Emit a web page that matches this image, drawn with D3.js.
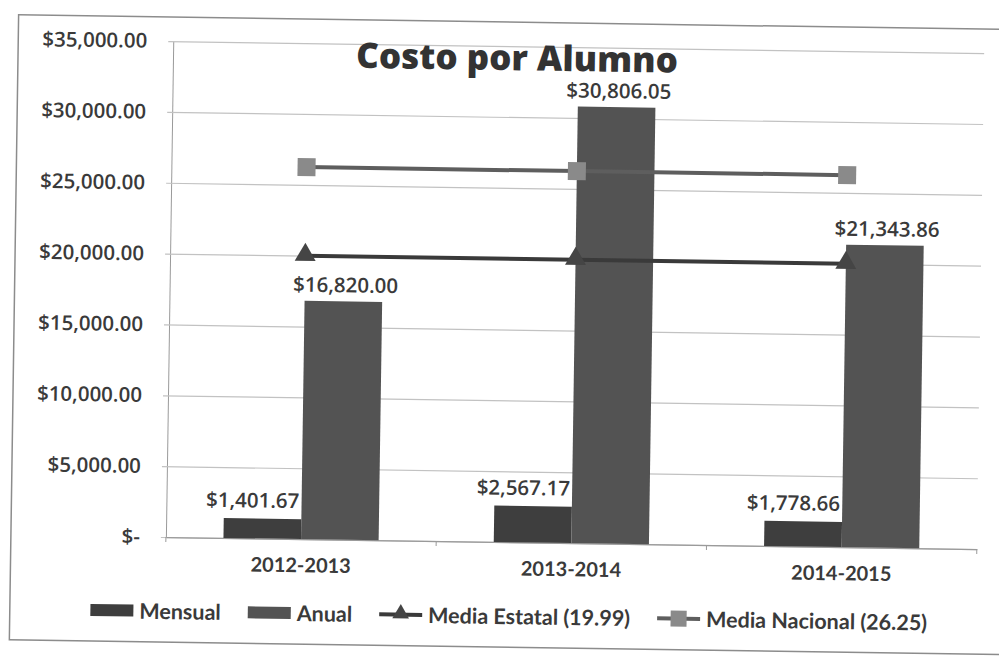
<!DOCTYPE html>
<html>
<head>
<meta charset="utf-8">
<script src="https://cdn.jsdelivr.net/npm/d3@7"></script>
<style>
  html, body { margin: 0; padding: 0; background: #ffffff; }
  svg { display: block; }
</style>
</head>
<body>
<svg id="chart" width="999" height="656"></svg>
<script>
// Costo por Alumno: monthly and yearly cost per student, with state and national averages
const categories = ['2012-2013', '2013-2014', '2014-2015'];
const mensual = [1401.67, 2567.17, 1778.66];
const anual = [16820.00, 30806.05, 21343.86];
const mediaEstatal = [19990, 19990, 19990];
const mediaNacional = [26250, 26250, 26250];
const yTicks = [0, 5000, 10000, 15000, 20000, 25000, 30000, 35000];
const barSeries = ['Mensual', 'Anual'];
const legendLabels = ['Mensual', 'Anual', 'Media Estatal (19.99)', 'Media Nacional (26.25)'];
const titleText = 'Costo por Alumno';

const colors = {
  Mensual: '#3e3e3e',
  Anual: '#535353',
  estatal: '#3a3a3a',
  estatalMarker: '#454545',
  nacional: '#5e5e5e',
  nacionalMarker: '#8a8a8a',
  grid: '#c2c2c2',
  axis: '#9a9a9a',
  text: '#3a3a3a'
};

const numFont = '"Open Sans", sans-serif';
const lblFont = 'Lato, "Open Sans", sans-serif';

const svg = d3.select('#chart');
// the sheet sits slightly turned on the page
const root = svg.append('g').attr('transform', 'rotate(0.85 500 330)');

// outer chart frame
root.append('rect')
  .attr('x', 14).attr('y', 22)
  .attr('width', 1005).attr('height', 625)
  .attr('fill', '#ffffff')
  .attr('stroke', '#8c8c8c').attr('stroke-width', 1.5);

const plot = { left: 169, right: 980, top: 46, bottom: 542 };

const x = d3.scaleBand().domain(categories).range([plot.left, plot.right]).padding(0);
const xs = d3.scaleBand().domain(barSeries).range([0, x.bandwidth()])
  .paddingInner(0).paddingOuter(0.742);
const y = d3.scaleLinear().domain([0, 35000]).range([plot.bottom, plot.top]);

const money = d3.format(',.2f');
const fmtAxis = d => d === 0 ? '$-' : '$' + money(d);
const fmtVal = d => '$' + money(d);

// y axis with gridlines
const yAxis = root.append('g')
  .attr('transform', `translate(${plot.left},0)`)
  .call(d3.axisLeft(y).tickValues(yTicks)
    .tickSizeInner(-(plot.right - plot.left)).tickSizeOuter(0)
    .tickPadding(26).tickFormat(fmtAxis));
yAxis.select('.domain').attr('stroke', colors.axis).attr('stroke-width', 1);
yAxis.selectAll('.tick line')
  .attr('x1', -5)
  .attr('stroke', colors.grid).attr('stroke-width', 1.2);
yAxis.selectAll('.tick text')
  .attr('fill', colors.text)
  .style('font-family', numFont).style('font-size', '20.5px').style('font-weight', 600);

// x axis baseline, category labels and boundary ticks
const xAxis = root.append('g')
  .attr('transform', `translate(0,${plot.bottom})`)
  .call(d3.axisBottom(x).tickSize(0).tickPadding(19));
xAxis.select('.domain').attr('stroke', colors.axis).attr('stroke-width', 1.2);
xAxis.selectAll('.tick text')
  .attr('fill', colors.text)
  .style('font-family', lblFont).style('font-size', '20px').style('font-weight', 700);
const edges = categories.map(c => x(c)).concat([x(categories[categories.length - 1]) + x.bandwidth()]);
xAxis.selectAll('line.edge').data(edges).enter().append('line')
  .attr('class', 'edge')
  .attr('x1', d => d).attr('x2', d => d)
  .attr('y1', 0).attr('y2', 5)
  .attr('stroke', colors.axis).attr('stroke-width', 1);

// bars
const barData = categories.map((c, i) => ({ cat: c, Mensual: mensual[i], Anual: anual[i] }));

function drawBars(series, labelShift, labelGap) {
  const g = root.append('g').attr('class', 'bars-' + series);
  g.selectAll('rect').data(barData).enter().append('rect')
    .attr('x', d => x(d.cat) + xs(series))
    .attr('y', d => y(d[series]))
    .attr('width', xs.bandwidth())
    .attr('height', d => y(0) - y(d[series]))
    .attr('fill', colors[series]);
  g.selectAll('text').data(barData).enter().append('text')
    .attr('x', d => x(d.cat) + xs(series) + xs.bandwidth() / 2 + labelShift)
    .attr('y', d => y(d[series]) - labelGap)
    .attr('text-anchor', 'middle')
    .attr('fill', colors.text)
    .style('font-family', numFont).style('font-size', '20.5px').style('font-weight', 600)
    .text(d => fmtVal(d[series]));
}
drawBars('Mensual', -10, 11);
drawBars('Anual', 2, 9);

// average lines
const cx = c => x(c) + x.bandwidth() / 2;
const line = d3.line().x(d => cx(d.cat)).y(d => y(d.v));

const estatalPts = categories.map((c, i) => ({ cat: c, v: mediaEstatal[i] }));
const nacionalPts = categories.map((c, i) => ({ cat: c, v: mediaNacional[i] }));

root.append('path').datum(nacionalPts)
  .attr('d', line).attr('fill', 'none')
  .attr('stroke', colors.nacional).attr('stroke-width', 4);
root.append('g').selectAll('rect').data(nacionalPts).enter().append('rect')
  .attr('x', d => cx(d.cat) - 9).attr('y', d => y(d.v) - 9)
  .attr('width', 18).attr('height', 18)
  .attr('fill', colors.nacionalMarker);

const tri = d3.symbol().type(d3.symbolTriangle).size(190);
root.append('path').datum(estatalPts)
  .attr('d', line).attr('fill', 'none')
  .attr('stroke', colors.estatal).attr('stroke-width', 4);
root.append('g').selectAll('path').data(estatalPts).enter().append('path')
  .attr('d', tri)
  .attr('transform', d => `translate(${cx(d.cat)},${y(d.v) - 1})`)
  .attr('fill', colors.estatalMarker);

// title
root.append('text')
  .attr('x', 513).attr('y', 70)
  .attr('text-anchor', 'middle')
  .attr('fill', '#333333')
  .style('font-family', numFont).style('font-size', '35px').style('font-weight', 800)
  .text(titleText);

// legend
const legend = root.append('g');
const legendY = 616;
const swW = 43, gapSw = 6, gapItem = 27;
let lx = 0;
legendLabels.forEach((name, i) => {
  const item = legend.append('g').attr('transform', `translate(${lx},0)`);
  if (i < 2) {
    item.append('rect')
      .attr('x', 0).attr('y', legendY - 6)
      .attr('width', swW).attr('height', 12)
      .attr('fill', colors[barSeries[i]]);
  } else if (i === 2) {
    item.append('line').attr('x1', 0).attr('x2', swW)
      .attr('y1', legendY).attr('y2', legendY)
      .attr('stroke', colors.estatal).attr('stroke-width', 4);
    item.append('path').attr('d', d3.symbol().type(d3.symbolTriangle).size(120))
      .attr('transform', `translate(${swW / 2},${legendY - 1})`)
      .attr('fill', colors.estatalMarker);
  } else {
    item.append('line').attr('x1', 0).attr('x2', swW)
      .attr('y1', legendY).attr('y2', legendY)
      .attr('stroke', colors.nacional).attr('stroke-width', 4);
    item.append('rect').attr('x', swW / 2 - 8).attr('y', legendY - 8)
      .attr('width', 16).attr('height', 16)
      .attr('fill', colors.nacionalMarker);
  }
  const t = item.append('text')
    .attr('x', swW + gapSw).attr('y', legendY)
    .attr('dominant-baseline', 'central')
    .attr('fill', colors.text)
    .style('font-family', lblFont).style('font-size', '21.5px').style('font-weight', 700)
    .text(name);
  lx += swW + gapSw + t.node().getComputedTextLength() + gapItem;
});
const legendW = lx - gapItem;
legend.attr('transform', `translate(${513 - legendW / 2},0)`);
</script>
</body>
</html>
